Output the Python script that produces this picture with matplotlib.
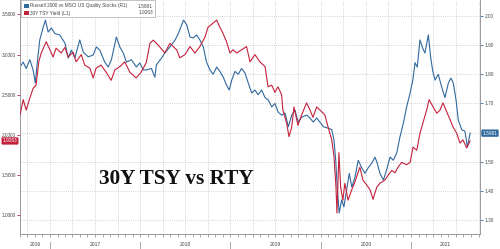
import pandas as pd
import matplotlib
matplotlib.use("Agg")
import matplotlib.pyplot as plt
import matplotlib.dates as mdates
import matplotlib.transforms as mtransforms
from matplotlib.patches import Rectangle
from matplotlib.lines import Line2D

OUTPUT_IMG = "out.png"

# 30Y TSY yield (left axis)
tsy_dates = [
    "2016-09-01", "2016-09-14", "2016-09-26", "2016-10-12", "2016-10-24", "2016-11-05",
    "2016-11-16", "2016-11-26", "2016-12-16", "2016-12-31", "2017-01-13", "2017-01-25",
    "2017-02-15", "2017-03-02", "2017-03-15", "2017-04-04", "2017-04-16", "2017-05-07",
    "2017-05-21", "2017-06-11", "2017-06-24", "2017-07-06", "2017-07-26", "2017-08-16",
    "2017-09-05", "2017-09-20", "2017-10-10", "2017-10-30", "2017-11-20", "2017-12-15",
    "2018-01-04", "2018-01-25", "2018-02-09", "2018-02-22", "2018-03-14", "2018-04-10",
    "2018-05-01", "2018-05-28", "2018-06-10", "2018-07-01", "2018-07-21", "2018-08-10",
    "2018-08-30", "2018-09-20", "2018-10-02", "2018-10-22", "2018-11-06", "2018-11-19",
    "2018-12-01", "2018-12-16", "2018-12-30", "2019-01-11", "2019-01-26", "2019-02-15",
    "2019-03-07", "2019-03-21", "2019-04-10", "2019-04-30", "2019-05-21", "2019-06-02",
    "2019-06-17", "2019-06-30", "2019-07-12", "2019-07-27", "2019-08-01", "2019-08-16",
    "2019-08-26", "2019-09-06", "2019-09-15", "2019-10-01", "2019-10-16", "2019-11-05",
    "2019-11-19", "2019-12-01", "2019-12-16", "2019-12-29", "2020-01-18", "2020-01-31",
    "2020-02-15", "2020-02-24", "2020-03-03", "2020-03-07", "2020-03-15", "2020-03-22",
    "2020-03-31", "2020-04-08", "2020-04-21", "2020-05-06", "2020-05-19", "2020-05-31",
    "2020-06-08", "2020-06-20", "2020-07-05", "2020-07-19", "2020-07-31", "2020-08-15",
    "2020-08-28", "2020-09-17", "2020-09-30", "2020-10-15", "2020-10-28", "2020-11-09",
    "2020-11-24", "2020-12-14", "2020-12-28", "2021-01-09", "2021-01-24", "2021-02-06",
    "2021-02-18", "2021-03-05", "2021-03-15", "2021-03-31", "2021-04-15", "2021-04-28",
    "2021-05-10", "2021-05-25", "2021-06-08", "2021-06-20", "2021-07-05", "2021-07-18",
    "2021-07-30", "2021-08-14", "2021-08-28",
]
tsy_yield = [
    2.25, 2.44, 2.31, 2.47, 2.58, 2.62,
    2.91, 3.02, 3.16, 3.06, 2.97, 3.08,
    3.02, 3.09, 2.97, 3.03, 2.91, 3.00,
    2.87, 2.83, 2.71, 2.83, 2.87, 2.78,
    2.68, 2.81, 2.85, 2.91, 2.78, 2.71,
    2.78, 2.90, 3.14, 3.18, 3.12, 3.02,
    3.14, 3.06, 2.96, 3.00, 3.10, 3.02,
    3.10, 3.22, 3.34, 3.39, 3.43, 3.34,
    3.27, 3.16, 3.02, 3.06, 3.02, 3.06,
    3.10, 2.91, 3.00, 2.91, 2.85, 2.60,
    2.62, 2.53, 2.60, 2.50, 2.31, 2.15,
    1.98, 2.10, 2.35, 2.12, 2.25, 2.40,
    2.31, 2.22, 2.35, 2.31, 2.25, 2.10,
    1.94, 1.73, 1.35, 1.03, 1.78, 1.35,
    1.19, 1.40, 1.19, 1.32, 1.42, 1.53,
    1.60, 1.44, 1.38, 1.32, 1.20, 1.35,
    1.40, 1.44, 1.50, 1.56, 1.53, 1.60,
    1.66, 1.63, 1.66, 1.85, 1.81, 2.02,
    2.15, 2.31, 2.44, 2.35, 2.27, 2.31,
    2.40, 2.29, 2.19, 2.10, 2.02, 1.90,
    1.94, 1.84, 1.9263,
]

# Russell 2000 vs MSCI US Quality Stocks (right axis)
rty_dates = [
    "2016-09-01", "2016-09-14", "2016-09-26", "2016-10-11", "2016-10-24", "2016-11-02",
    "2016-11-11", "2016-11-20", "2016-12-04", "2016-12-13", "2016-12-24", "2017-01-06",
    "2017-01-20", "2017-02-09", "2017-03-02", "2017-03-15", "2017-03-28", "2017-04-11",
    "2017-05-01", "2017-05-15", "2017-06-04", "2017-06-24", "2017-07-07", "2017-07-21",
    "2017-08-10", "2017-08-24", "2017-09-06", "2017-09-26", "2017-10-10", "2017-10-24",
    "2017-11-06", "2017-11-26", "2017-12-16", "2017-12-30", "2018-01-13", "2018-01-26",
    "2018-02-15", "2018-03-01", "2018-03-07", "2018-03-28", "2018-04-10", "2018-05-01",
    "2018-05-22", "2018-06-04", "2018-06-25", "2018-07-08", "2018-07-21", "2018-08-03",
    "2018-08-17", "2018-08-30", "2018-09-13", "2018-09-26", "2018-10-10", "2018-10-23",
    "2018-11-06", "2018-11-19", "2018-12-03", "2018-12-16", "2018-12-27", "2019-01-06",
    "2019-01-19", "2019-02-01", "2019-02-15", "2019-03-01", "2019-03-14", "2019-03-28",
    "2019-04-10", "2019-04-23", "2019-05-07", "2019-05-21", "2019-06-03", "2019-06-17",
    "2019-06-30", "2019-07-13", "2019-07-27", "2019-08-10", "2019-08-23", "2019-09-06",
    "2019-09-19", "2019-10-02", "2019-10-16", "2019-11-05", "2019-11-19", "2019-12-02",
    "2019-12-16", "2019-12-29", "2020-01-12", "2020-02-01", "2020-02-15", "2020-02-24",
    "2020-03-02", "2020-03-08", "2020-03-16", "2020-03-26", "2020-04-04", "2020-04-15",
    "2020-04-26", "2020-05-06", "2020-05-19", "2020-06-01", "2020-06-15", "2020-06-28",
    "2020-07-12", "2020-07-26", "2020-08-08", "2020-08-17", "2020-08-28", "2020-09-11",
    "2020-09-24", "2020-10-08", "2020-10-21", "2020-11-04", "2020-11-17", "2020-12-01",
    "2020-12-14", "2020-12-28", "2021-01-08", "2021-01-17", "2021-01-26", "2021-02-06",
    "2021-02-17", "2021-02-26", "2021-03-12", "2021-03-21", "2021-03-30", "2021-04-08",
    "2021-04-21", "2021-05-05", "2021-05-18", "2021-06-01", "2021-06-11", "2021-06-21",
    "2021-07-02", "2021-07-11", "2021-07-25", "2021-08-07", "2021-08-17", "2021-08-28",
]
rty_ratio = [
    1.825, 1.842, 1.820, 1.850, 1.815, 1.770,
    1.850, 1.918, 1.962, 1.986, 1.945, 1.959,
    1.940, 1.935, 1.907, 1.856, 1.883, 1.856,
    1.918, 1.876, 1.860, 1.866, 1.894, 1.883,
    1.842, 1.825, 1.850, 1.928, 1.894, 1.873,
    1.842, 1.850, 1.825, 1.839, 1.815, 1.815,
    1.820, 1.790, 1.832, 1.856, 1.873, 1.894,
    1.918, 1.940, 1.986, 1.970, 1.928, 1.925,
    1.935, 1.918, 1.894, 1.842, 1.815, 1.800,
    1.825, 1.810, 1.790, 1.763, 1.746, 1.780,
    1.810, 1.800, 1.820, 1.804, 1.770, 1.736,
    1.746, 1.730, 1.746, 1.720, 1.712, 1.688,
    1.700, 1.670, 1.660, 1.667, 1.620, 1.660,
    1.677, 1.636, 1.653, 1.660, 1.650, 1.636,
    1.650, 1.636, 1.620, 1.615, 1.610, 1.574,
    1.505, 1.413, 1.324, 1.369, 1.345, 1.403,
    1.460, 1.413, 1.447, 1.505, 1.480, 1.460,
    1.480, 1.495, 1.516, 1.495, 1.460, 1.437,
    1.472, 1.516, 1.505, 1.530, 1.585, 1.633,
    1.688, 1.736, 1.780, 1.840, 1.825, 1.918,
    1.890, 1.873, 1.935, 1.860, 1.810, 1.780,
    1.800, 1.756, 1.720, 1.770, 1.787, 1.770,
    1.712, 1.643, 1.610, 1.605, 1.550, 1.5981,
]

tsy_label = "30Y TSY Yield (L1)"
rty_label = "Russell 2000 vs MSCI US Quality Stocks (R1)"
years = [2016, 2017, 2018, 2019, 2020, 2021]

RED = "#c3213c"
BLUE = "#31699e"
GRID = "#c4c4c4"
TXT = "#444444"
SANS = "Liberation Sans"

W, H = 500, 249


def px(x, y):
    # pixel position in the 500x249 picture -> figure fraction
    return x / W, 1 - y / H


def main():
    tsy = pd.Series(tsy_yield, index=pd.to_datetime(tsy_dates))
    rty = pd.Series(rty_ratio, index=pd.to_datetime(rty_dates))

    fig = plt.figure(figsize=(W / 100, H / 100), dpi=100)
    fig.patch.set_facecolor("white")

    # ax: right axis (ratio) + grid, ax2: left axis (yield)
    ax = fig.add_axes([20 / W, 15 / H, 460 / W, 234 / H])
    ax2 = ax.twinx()
    ax.yaxis.tick_right()
    ax2.yaxis.tick_left()

    ax.plot(rty.index, rty.values, color=BLUE, lw=0.8, zorder=3)
    ax2.plot(tsy.index, tsy.values, color=RED, lw=0.8, zorder=3)

    xmin, xmax = pd.Timestamp("2016-09-01"), pd.Timestamp("2021-10-07")
    ax.set_xlim(xmin, xmax)
    ax.set_ylim(1.252, 2.055)
    ax2.set_ylim(0.769, 3.679)

    # the 1.60 label is covered by the last-value tag, so leave it blank
    ax.set_yticks([1.3, 1.4, 1.5, 1.6, 1.7, 1.8, 1.9, 2.0])
    ax.yaxis.set_major_formatter(
        plt.FuncFormatter(lambda v, p: "" if abs(v - 1.6) < 1e-6 else f"{v:.2f}"))
    ax2.set_yticks([1.0, 1.5, 2.0, 2.5, 3.0, 3.5])
    ax2.yaxis.set_major_formatter(plt.FormatStrFormatter("%.4f"))

    ax.tick_params(axis="y", length=2, width=0.6, color=BLUE, labelsize=3.4,
                   labelcolor=TXT, pad=1.5, labelfontfamily=SANS)
    ax2.tick_params(axis="y", length=2, width=0.6, color=RED, labelsize=3.4,
                    labelcolor=TXT, pad=1.0, labelfontfamily=SANS)

    # x axis: quarterly dotted grid, monthly minor ticks, no labels
    ax.xaxis.set_major_locator(mdates.MonthLocator(bymonth=[1, 4, 7, 10]))
    ax.xaxis.set_minor_locator(mdates.MonthLocator())
    ax.xaxis.set_major_formatter(plt.NullFormatter())
    ax.tick_params(axis="x", which="both", length=2, width=0.5, color="#888888")

    ax.grid(True, which="major", axis="both", color=GRID, lw=0.6,
            linestyle=(0, (1, 1.6)))
    ax.set_axisbelow(True)

    for a in (ax, ax2):
        a.spines["top"].set_visible(False)
        for s in ("left", "right", "bottom"):
            a.spines[s].set_color("#9a9a9a")
            a.spines[s].set_linewidth(0.6)

    # year labels centred in each visible year, separators at year starts
    blend = mtransforms.blended_transform_factory(ax.transData, ax.transAxes)
    for yr in years:
        start = max(pd.Timestamp(f"{yr}-01-01"), xmin)
        end = min(pd.Timestamp(f"{yr + 1}-01-01"), xmax)
        mid = start + (end - start) / 2
        ax.text(mid, -0.047, str(yr), transform=blend, ha="center", va="center",
                fontsize=3.6, color=TXT, family=SANS)
        if yr > years[0]:
            ax.add_line(Line2D([start, start], [-0.034, -0.062], transform=blend,
                               color="#9a9a9a", lw=0.6, clip_on=False))

    # last value tags
    ax2.annotate(f"{tsy.iloc[-1]:.4f}", xy=(0, tsy.iloc[-1]),
                 xycoords=("axes fraction", "data"), xytext=(-10, 0),
                 textcoords="offset pixels", ha="center", va="center",
                 fontsize=3.4, color="white", family=SANS,
                 bbox=dict(boxstyle="round,pad=0.25", fc=RED, ec="none"))
    ax.annotate(f"{rty.iloc[-1]:.4f}", xy=(1, rty.iloc[-1]),
                xycoords=("axes fraction", "data"), xytext=(10, 0),
                textcoords="offset pixels", ha="center", va="center",
                fontsize=3.4, color="white", family=SANS,
                bbox=dict(boxstyle="round,pad=0.25", fc=BLUE, ec="none"))

    # legend box, top left
    x0, y0 = px(21, 17)
    x1, y1 = px(155, 0)
    fig.patches.append(Rectangle((x0, y0), x1 - x0, y1 - y0, transform=fig.transFigure,
                                 fc="white", ec="#aaaaaa", lw=0.5, zorder=5))
    rows = [(rty_label, rty.iloc[-1], BLUE, 6), (tsy_label, tsy.iloc[-1], RED, 13)]
    for label, val, col, ry in rows:
        sx, sy = px(24, ry + 2.3)
        fig.patches.append(Rectangle((sx, sy), 4.5 / W, 4.5 / H, transform=fig.transFigure,
                                     fc=col, ec="none", zorder=6))
        tx, ty = px(30, ry)
        fig.text(tx, ty, label, fontsize=3.4, color=TXT, family=SANS,
                 ha="left", va="center", zorder=6)
        vx, vy = px(153, ry)
        fig.text(vx, vy, f"{val:.4f}", fontsize=3.4, color=TXT, family=SANS,
                 ha="right", va="center", zorder=6)

    # big caption
    cx, cy = px(176, 184)
    fig.text(cx, cy, "30Y TSY vs RTY", fontsize=15.3, fontweight="bold",
             family="Liberation Serif", color="#111111", ha="center", va="baseline",
             zorder=6)

    fig.savefig(OUTPUT_IMG, dpi=100, facecolor="white")
    print(f"saved {OUTPUT_IMG}")


if __name__ == "__main__":
    main()
